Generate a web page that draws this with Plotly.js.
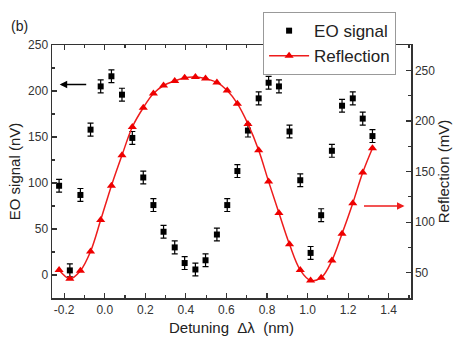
<!DOCTYPE html>
<html><head><meta charset="utf-8">
<script src="https://cdn.plot.ly/plotly-3.0.1.min.js"></script>
<style>html,body{margin:0;padding:0;background:#fff}</style>
</head><body><div id="chart" style="width:459px;height:347px"></div>
<script>
const detuning = [-0.225,-0.172,-0.12,-0.07,-0.02,0.033,0.085,0.136,0.19,0.24,0.29,0.345,0.394,0.447,0.497,0.553,0.604,0.654,0.706,0.759,0.808,0.859,0.911,0.964,1.015,1.067,1.12,1.17,1.223,1.272,1.32];
const eoSignal = [97,5,87,158,205,216,196,149,106,76,47,30,13,6,16,44,76,113,157,192,209,205,156,103,24,65,135,184,192,170,151];
const eoError = [7,7,7,7,7,7,7,7,7,7,7,7,7,7,7,7,7,7,7,7,7,7,7,7,7,7,7,7,7,7,7];
const reflection = [52.6,44,52,71,102,136,166,194,213,227,235,239.5,242.7,243.4,241.8,238,230,217,197,171,140,109,78,52.6,42.4,45,62,88.5,118.7,149,173];
const xTicks = [-0.2,0.0,0.2,0.4,0.6,0.8,1.0,1.2,1.4];

const font = {family:'"Liberation Sans", Arial, sans-serif', color:'#222'};
const axisCommon = {
  showgrid:false, zeroline:false, showline:true, linecolor:'#333', linewidth:1.5,
  ticks:'inside', ticklen:5, tickcolor:'#333', tickwidth:1.2,
  tickfont:{...font, size:12, color:'#333'}
};
const traces = [
  {x:detuning, y:eoSignal, name:'EO signal', type:'scatter', mode:'markers',
   marker:{symbol:'square', size:6, color:'#000'},
   error_y:{type:'data', array:eoError, visible:true, width:3, thickness:1.2, color:'#000'}},
  {x:detuning, y:reflection, name:'Reflection', type:'scatter', mode:'lines+markers', yaxis:'y2',
   line:{color:'#ee1c1c', width:1.5, shape:'spline'},
   marker:{symbol:'triangle-up', size:8, color:'#ee0000'}}
];
const layout = {
  width:459, height:347,
  margin:{l:52, r:48, t:37, b:49},
  paper_bgcolor:'#fff', plot_bgcolor:'#fff',
  font:font,
  showlegend:true,
  legend:{x:0.588, y:1.13, xanchor:'left', yanchor:'top', bgcolor:'#fff',
    bordercolor:'#999', borderwidth:1, font:{...font, size:17}, tracegroupgap:0, itemwidth:40},
  xaxis:{...axisCommon, range:[-0.26,1.51], tickvals:xTicks, ticktext:xTicks.map(v=>v.toFixed(1)),
    mirror:'ticks', minor:{ticks:'inside', ticklen:3, dtick:0.1, tickcolor:'#333'},
    title:{text:'Detuning  Δλ  (nm)', font:{...font, size:15}, standoff:6}},
  yaxis:{...axisCommon, range:[-25,250], dtick:50,
    minor:{ticks:'inside', ticklen:3, dtick:25, tickcolor:'#333'},
    title:{text:'EO signal (nV)', font:{...font, size:15}, standoff:4}},
  yaxis2:{...axisCommon, overlaying:'y', side:'right', anchor:'x', range:[25,275],
    tickvals:[50,100,150,200,250], minor:{ticks:'inside', ticklen:3, dtick:25, tickcolor:'#333'},
    title:{text:'Reflection (mV)', font:{...font, size:15}, standoff:4}},
  annotations:[
    {xref:'paper', yref:'paper', x:-0.09, y:1.075, text:'(b)', showarrow:false,
     xanchor:'center', yanchor:'middle', font:{...font, size:14}},
    {xref:'x', yref:'y', x:-0.222, y:207, ax:28, ay:0, text:'', showarrow:true,
     arrowhead:2, arrowsize:1, arrowwidth:1.5, arrowcolor:'#000'},
    {xref:'x', yref:'y2', x:1.478, y:116, ax:-42, ay:0, text:'', showarrow:true,
     arrowhead:2, arrowsize:1, arrowwidth:1.5, arrowcolor:'#ee1c1c'}
  ]
};
Plotly.newPlot('chart', traces, layout, {displayModeBar:false, staticPlot:true});
</script></body></html>
